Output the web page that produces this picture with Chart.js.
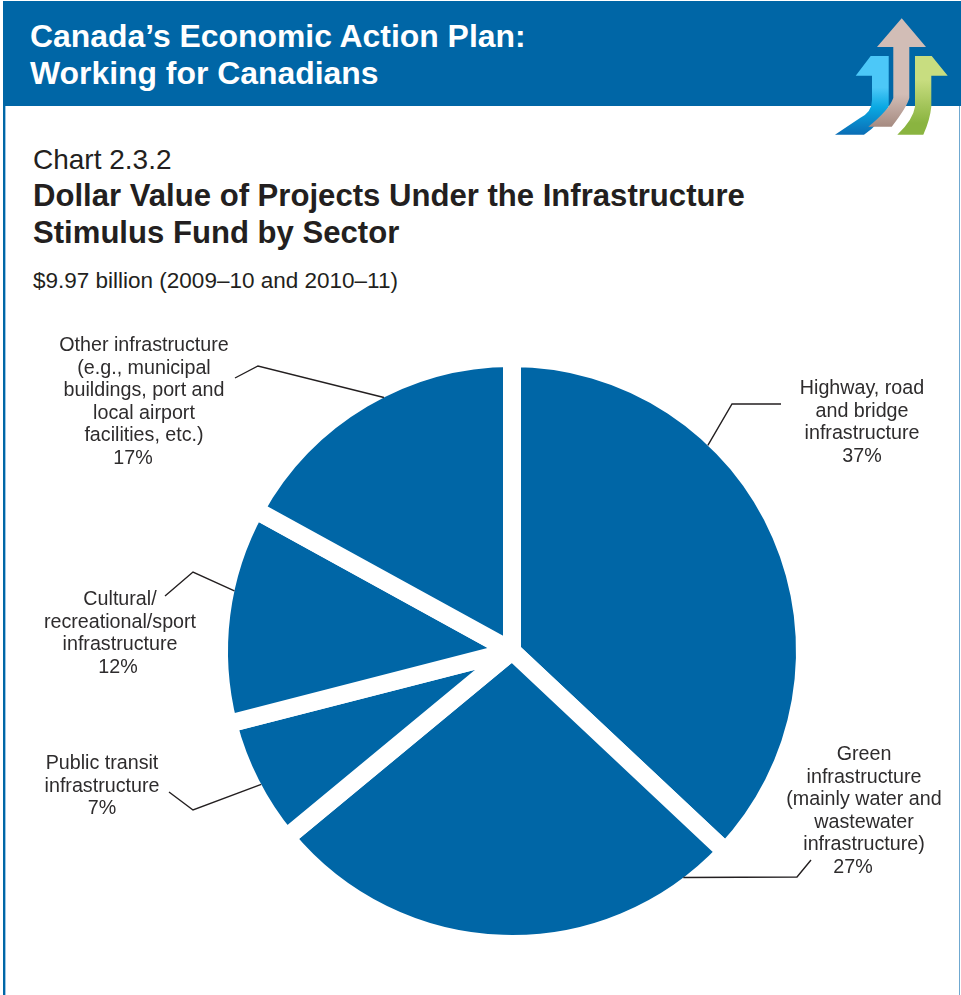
<!DOCTYPE html>
<html>
<head>
<meta charset="utf-8">
<title>Chart 2.3.2</title>
<script src="https://cdn.jsdelivr.net/npm/chart.js@4"></script>
<style>
  html, body { margin: 0; padding: 0; background: #fff; }
  #page { position: relative; width: 961px; height: 995px; overflow: hidden; font-family: "Liberation Sans", Arial, sans-serif; color: #231f20; }
  #chart { position: absolute; left: 0; top: 0; }
  #frame { position: absolute; left: 3px; top: 106px; width: 954px; height: 889px; border-left: 2px solid #0067a6; border-right: 1px solid #6fa8d0; box-shadow: inset 1px 0 0 #9cc6e6; }
  #band { position: absolute; left: 3px; top: 1px; width: 958px; height: 105px; background: #0066a6; }
  #band div { position: absolute; left: 27px; color: #fff; font-weight: bold; font-size: 31.9px; white-space: nowrap; line-height: 37px; }
  #logo { position: absolute; left: 0; top: 0; }
  .t { position: absolute; left: 33px; white-space: nowrap; }
  .lab { position: absolute; transform: translateX(-50%); text-align: center; font-size: 19.7px; line-height: 22.5px; white-space: nowrap; color: #2e2c2d; }
  .lab span { position: relative; }
</style>
</head>
<body>
<div id="page">
  <div id="band">
    <div style="top:17px">Canada’s Economic Action Plan:</div>
    <div style="top:54px">Working for Canadians</div>
  </div>
  <div id="frame"></div>
  <svg id="logo" width="961" height="150" viewBox="0 0 961 150">
    <defs>
      <linearGradient id="gb" gradientUnits="userSpaceOnUse" x1="0" y1="56" x2="0" y2="135">
        <stop offset="0.4" stop-color="#4cc8f8"/><stop offset="0.65" stop-color="#0aa8e2"/><stop offset="1" stop-color="#0a6cb4"/>
      </linearGradient>
      <linearGradient id="gt" gradientUnits="userSpaceOnUse" x1="0" y1="18" x2="0" y2="127">
        <stop offset="0.7" stop-color="#d2bdb6"/><stop offset="1" stop-color="#a58a80"/>
      </linearGradient>
      <linearGradient id="gg" gradientUnits="userSpaceOnUse" x1="0" y1="56" x2="0" y2="135">
        <stop offset="0.3" stop-color="#c8dd80"/><stop offset="0.85" stop-color="#8ab440"/>
      </linearGradient>
    </defs>
    <path fill="url(#gb)" d="M888.7 56H870.7L855.7 75.7H872V100Q872 112 860 118Q848 126 835 134.7H864Q880 124 888.7 106.7Z"/>
    <path fill="url(#gg)" d="M915 56H931.7L947.7 75.7H931.3V106.7Q930 120 923.3 134.7H897.3Q913 120 915 106.7Z"/>
    <path fill="url(#gt)" d="M901.7 18.3L926 47H909.3V98Q907 107 891.7 126.7H868.3Q889 110 893.3 98V47H877Z"/>
  </svg>
  <div class="t" style="top:144px;font-size:28px;line-height:32px">Chart 2.3.2</div>
  <div class="t" style="top:177px;font-size:31.1px;line-height:37px;font-weight:bold;">Dollar Value of Projects Under the Infrastructure<br>Stimulus Fund by Sector</div>
  <div class="t" style="top:267px;font-size:22.5px;line-height:27px">$9.97 billion (2009–10 and 2010–11)</div>
  <canvas id="chart" width="961" height="995"></canvas>
  <div id="labels"></div>
</div>
<script>
const sectors = [
  "Highway, road\nand bridge\ninfrastructure",
  "Green\ninfrastructure\n(mainly water and\nwastewater\ninfrastructure)",
  "Public transit\ninfrastructure",
  "Cultural/\nrecreational/sport\ninfrastructure",
  "Other infrastructure\n(e.g., municipal\nbuildings, port and\nlocal airport\nfacilities, etc.)"
];
const shares = [37, 27, 7, 12, 17];

// label placement and leader lines: [centre x, top y, shift of the % line]
const labelPos = [[862, 376, 0], [864, 742, -11], [102, 751, 0], [120, 587, -2], [144, 333, -11]];
// where each leader leaves the pie (degrees clockwise from 12 o'clock), then its elbow points
const leaderAngle = [43.6, 142.9, 242, 282.2, 333.2];
const leaderPts = [
  [[732, 404], [781, 404]],
  [[797, 877], [811, 860]],
  [[193, 810], [169, 792]],
  [[193, 572], [165, 596]],
  [[258, 366], [235, 378]]
];

const leaders = {
  id: "leaders",
  afterDraw(chart) {
    const ctx = chart.ctx;
    const arc = chart.getDatasetMeta(0).data[0];
    const r = arc.outerRadius - 9;
    ctx.save();
    ctx.strokeStyle = "#231f20";
    ctx.lineWidth = 1.4;
    leaderAngle.forEach((deg, i) => {
      const a = deg * Math.PI / 180;
      ctx.beginPath();
      ctx.moveTo(arc.x + r * Math.sin(a), arc.y - r * Math.cos(a));
      leaderPts[i].forEach((p) => ctx.lineTo(p[0], p[1]));
      ctx.stroke();
    });
    ctx.restore();
  }
};

new Chart(document.getElementById("chart"), {
  type: "pie",
  data: {
    labels: sectors,
    datasets: [{
      data: shares,
      backgroundColor: "#0066a6",
      borderColor: "#ffffff",
      borderWidth: 18
    }]
  },
  options: {
    responsive: false,
    animation: false,
    radius: 293,
    layout: { padding: { left: 202, right: 139, top: 341, bottom: 34 } },
    plugins: { legend: { display: false }, tooltip: { enabled: false } }
  },
  plugins: [leaders]
});

const box = document.getElementById("labels");
sectors.forEach((name, i) => {
  const d = document.createElement("div");
  d.className = "lab";
  d.style.left = labelPos[i][0] + "px";
  d.style.top = labelPos[i][1] + "px";
  d.innerHTML = name.replace(/\n/g, "<br>") + '<br><span style="left:' + labelPos[i][2] + 'px">' + shares[i] + "%</span>";
  box.appendChild(d);
});
</script>
</body>
</html>
